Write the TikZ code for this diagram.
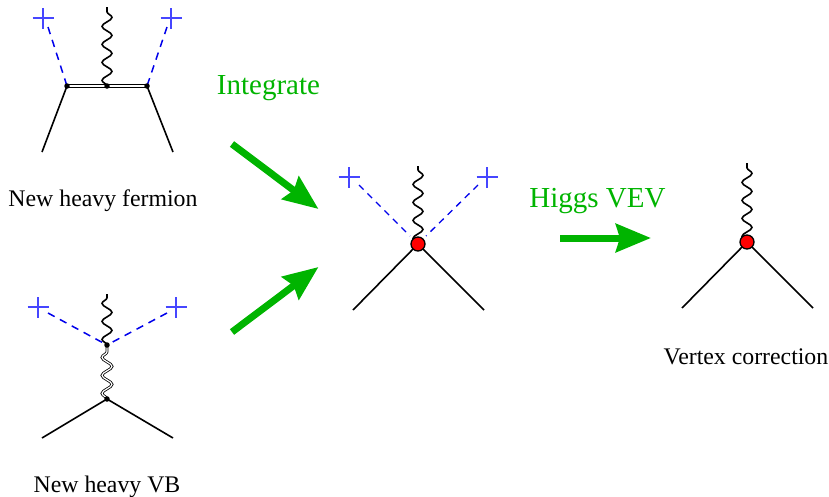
\documentclass[tikz,border=0pt]{standalone}
\usepackage{fontspec}
\setmainfont{Liberation Serif}
\usetikzlibrary{arrows.meta,decorations.pathmorphing}
\definecolor{vgreen}{RGB}{0,180,0}
\definecolor{xblue}{RGB}{70,70,255}
\definecolor{dblue}{RGB}{0,0,235}
\tikzset{
  x=1pt,y=-1pt,
  leg/.style={line width=1.6pt,black},
  photon/.style={line width=1.6pt,decorate,decoration={snake,segment length=18pt,amplitude=5pt}},
  hvb/.style={double=white,double distance=1.2pt,line width=0.8pt,decorate,decoration={snake,segment length=18pt,amplitude=5pt}},
  hferm/.style={line width=1pt,black},
  higgs/.style={dash pattern=on 7.5pt off 6pt,line width=1.5pt,dblue},
  higgsshort/.style={dash pattern=on 6.5pt off 5.5pt,line width=1.3pt,dblue},
  crossmark/.style={xblue,line width=1.1pt},
  dotv/.style={circle,fill=black,inner sep=0pt,minimum size=5.5pt},
  redv/.style={circle,draw=black,fill=red,line width=1.3pt,inner sep=0pt,minimum size=14pt},
  bigarrow/.style={vgreen,line width=7pt,-{Stealth[length=35pt,width=28pt,inset=4pt]}},
  lab/.style={inner sep=0pt,anchor=base,font=\fontsize{23.8}{26}\selectfont},
  gtext/.style={inner sep=0pt,anchor=base,text=vgreen,font=\fontsize{29}{32}\selectfont},
}
\newcommand{\crossat}[1]{\draw[crossmark] ([xshift=-10.5pt]#1) -- ([xshift=10.5pt]#1) ([yshift=-10.5pt]#1) -- ([yshift=10.5pt]#1);}
\begin{document}
\begin{tikzpicture}
\useasboundingbox (0,0) rectangle (829,496);
% heavy fermion
\coordinate (fa) at (67,86); \coordinate (fb) at (107,86); \coordinate (fc) at (147,86);
\coordinate (fl) at (42,152); \coordinate (fr) at (173,152);
\coordinate (ft) at (107,7);
\coordinate (fxl) at (43,18); \coordinate (fxr) at (171,18);
\coordinate (fdl) at (48,27); \coordinate (fdr) at (167,27);
\draw[hferm] ([yshift=-1.2pt]fa) -- ([yshift=-1.2pt]fc);
\draw[hferm] ([yshift=1.2pt]fa) -- ([yshift=1.2pt]fc);
\draw[leg] (fa) -- (fl);
\draw[leg] (fc) -- (fr);
\draw[photon] (fb) -- (ft);
\draw[higgs] (fdl) -- (fa);
\draw[higgs] (fdr) -- (fc);
\crossat{fxl} \crossat{fxr}
\node[dotv] (fna) at (fa) {}; \node[dotv] (fnb) at (fb) {}; \node[dotv] (fnc) at (fc) {};
\node[lab] (t1) at (103,206) {New heavy fermion};
% heavy VB
\coordinate (va) at (107,345); \coordinate (vb) at (107,399);
\coordinate (vl) at (42,438); \coordinate (vr) at (173,438);
\coordinate (vt) at (107,294);
\coordinate (vxl) at (38,307); \coordinate (vxr) at (176,307);
\coordinate (vdl) at (48,313); \coordinate (vdr) at (167,313);
\draw[hvb] (vb) -- (va);
\draw[photon] (va) -- (vt);
\draw[leg] (vb) -- (vl);
\draw[leg] (vb) -- (vr);
\draw[higgs] (vdl) -- (va);
\draw[higgs] (vdr) -- (va);
\crossat{vxl} \crossat{vxr}
\node[dotv] (vna) at (va) {}; \node[dotv] (vnb) at (vb) {};
\node[lab] (t2) at (107,492) {New heavy VB};
% effective
\coordinate (ev) at (418,244);
\coordinate (el) at (353,310); \coordinate (er) at (484,310);
\coordinate (et) at (418,166);
\coordinate (exl) at (349,177); \coordinate (exr) at (487,177);
\coordinate (edl) at (359,185); \coordinate (edr) at (478,185);
\coordinate (edle) at (410,236); \coordinate (edre) at (426,236);
\draw[photon] (ev) -- (et);
\draw[leg] (ev) -- (el);
\draw[leg] (ev) -- (er);
\draw[higgsshort] (edl) -- (edle);
\draw[higgsshort] (edr) -- (edre);
\crossat{exl} \crossat{exr}
\node[redv] (env) at (ev) {};
% vertex correction
\coordinate (cv) at (747,242);
\coordinate (cl) at (682,308); \coordinate (cr) at (813,308);
\coordinate (ct) at (747,163);
\draw[photon] (cv) -- (ct);
\draw[leg] (cv) -- (cl);
\draw[leg] (cv) -- (cr);
\node[redv] (cnv) at (cv) {};
\node[lab] (t3) at (746,364) {Vertex correction};
% arrows
\coordinate (a1s) at (232,144); \coordinate (a1e) at (318.5,209);
\coordinate (a2s) at (232,332); \coordinate (a2e) at (318.5,267);
\coordinate (a3s) at (560,238); \coordinate (a3e) at (651,238);
\draw[bigarrow] (a1s) -- (a1e);
\draw[bigarrow] (a2s) -- (a2e);
\draw[bigarrow] (a3s) -- (a3e);
\node[gtext] (t4) at (268.5,94) {Integrate};
\node[gtext] (t5) at (597.5,207) {Higgs VEV};
\end{tikzpicture}
\end{document}
